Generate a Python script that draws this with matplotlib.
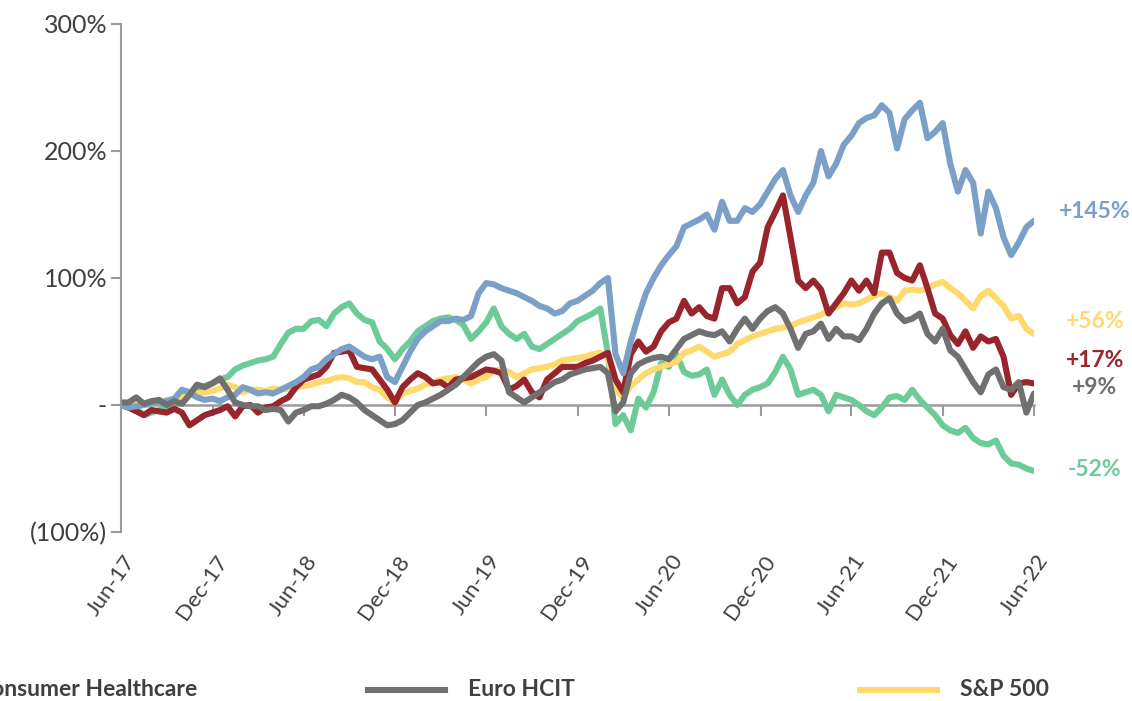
import pandas as pd
import matplotlib
matplotlib.use("Agg")
import matplotlib.pyplot as plt
from matplotlib.lines import Line2D
from matplotlib.transforms import ScaledTranslation

plt.rcParams["font.family"] = ["Lato", "DejaVu Sans"]

# semi-monthly observations, Jun-17 .. Jun-22 (cumulative return, %)
dates = pd.date_range("2017-06-30", "2022-06-30", periods=121)

blue = [0, -2, -1, 0, 1, 2, 3, 5, 12, 10, 6, 4, 5, 3, 6, 8, 14, 12, 9, 10,
        9, 12, 15, 18, 22, 28, 30, 36, 40, 44, 46, 42, 38, 36, 38, 22, 18, 30, 42, 52,
        58, 62, 66, 66, 68, 67, 70, 88, 96, 95, 92, 90, 88, 85, 82, 78, 76, 72, 74, 80,
        82, 86, 90, 96, 100, 40, 25, 50, 70, 88, 100, 110, 118, 125, 140, 143, 146, 150, 138, 160,
        145, 145, 155, 152, 158, 168, 178, 185, 165, 152, 165, 175, 200, 180, 190, 205, 212, 222, 226, 228,
        236, 230, 202, 225, 232, 238, 210, 215, 222, 190, 168, 185, 175, 135, 168, 155, 132, 118, 128, 140,
        145]
red = [0, -2, -5, -8, -4, -5, -6, -3, -6, -16, -12, -8, -6, -4, -1, -9, -1, 0, -6, -2,
       -1, 3, 6, 14, 20, 22, 24, 30, 41, 42, 43, 30, 29, 28, 20, 12, 2, 14, 20, 25,
       22, 17, 18, 14, 20, 21, 22, 25, 28, 27, 25, 12, 15, 20, 10, 6, 20, 25, 30, 30,
       30, 33, 35, 38, 41, 20, 10, 40, 50, 42, 46, 58, 65, 68, 82, 72, 77, 70, 68, 92,
       92, 80, 85, 105, 112, 140, 152, 165, 132, 98, 92, 98, 91, 72, 80, 88, 98, 90, 98, 88,
       120, 120, 104, 100, 98, 110, 92, 72, 68, 55, 48, 58, 45, 54, 50, 52, 38, 8, 17, 18,
       17]
grey = [2, 2, 6, 1, 3, 4, 0, 3, 1, 8, 16, 14, 17, 21, 12, 2, 0, -1, -1, -4,
        -3, -4, -13, -6, -4, -1, -1, 1, 4, 8, 6, 2, -4, -8, -12, -16, -15, -12, -6, 0,
        2, 5, 8, 12, 16, 22, 28, 34, 38, 40, 35, 10, 6, 2, 6, 10, 14, 18, 20, 24,
        26, 28, 29, 30, 25, -5, 2, 25, 32, 35, 37, 38, 36, 44, 52, 55, 58, 56, 55, 58,
        50, 60, 68, 60, 68, 74, 77, 72, 60, 45, 56, 58, 64, 52, 60, 54, 54, 51, 60, 72,
        80, 84, 72, 66, 68, 72, 56, 50, 60, 43, 38, 28, 18, 10, 24, 28, 14, 12, 18, -6,
        9]
yellow = [0, 1, 2, 1, 0, 2, 4, 5, 6, 8, 9, 10, 11, 13, 16, 14, 10, 12, 12, 11,
          13, 12, 13, 14, 15, 16, 18, 19, 21, 22, 21, 18, 18, 14, 12, 6, 2, 9, 11, 13,
          16, 18, 20, 21, 22, 20, 17, 20, 22, 27, 28, 26, 22, 25, 28, 29, 30, 32, 35, 36,
          37, 38, 40, 41, 38, 12, 6, 15, 20, 25, 28, 30, 32, 34, 41, 43, 46, 42, 38, 40,
          42, 48, 51, 54, 56, 58, 60, 61, 62, 65, 67, 69, 71, 75, 77, 80, 79, 80, 83, 86,
          88, 85, 82, 90, 91, 90, 92, 95, 97, 92, 88, 82, 76, 86, 90, 84, 78, 68, 70, 60,
          56]
green = [0, -2, -3, -8, -6, -4, -2, 4, 6, 10, 13, 15, 17, 20, 22, 28, 31, 33, 35, 36,
         38, 48, 57, 60, 60, 66, 67, 62, 72, 77, 80, 72, 67, 65, 50, 44, 36, 44, 50, 58,
         62, 66, 68, 69, 67, 63, 52, 58, 65, 76, 62, 56, 52, 56, 46, 44, 48, 52, 56, 60,
         66, 69, 72, 76, 40, -15, -8, -20, 5, -2, 10, 33, 30, 40, 26, 23, 24, 28, 8, 20,
         8, 0, 8, 12, 14, 17, 26, 38, 28, 8, 10, 12, 8, -5, 8, 6, 4, 0, -5, -8,
         -2, 6, 7, 4, 12, 4, -2, -8, -16, -20, -22, -18, -26, -30, -31, -28, -40, -46, -47, -50,
         -52]

tick_labels = ["Jun-17", "Dec-17", "Jun-18", "Dec-18", "Jun-19", "Dec-19",
               "Jun-20", "Dec-20", "Jun-21", "Dec-21", "Jun-22"]
tick_dates = ["2017-06-30", "2017-12-31", "2018-06-30", "2018-12-31", "2019-06-30",
              "2019-12-31", "2020-06-30", "2020-12-31", "2021-06-30", "2021-12-31",
              "2022-06-30"]
yticks = [-100, 0, 100, 200, 300]
ytick_labels = ["(100%)", "-", "100%", "200%", "300%"]

C_BLUE = "#7BA0C8"
C_RED = "#98242C"
C_GREY = "#707070"
C_YELLOW = "#FFD96E"
C_GREEN = "#6CCB98"
AXIS_GREY = "#9A9A9A"
TEXT = "#404040"


def main():
    fig = plt.figure(figsize=(11.32, 7.01), dpi=100)
    ax = fig.add_axes([0.1069, 0.2411, 0.8065, 0.7247])

    # drawing order: green under, grey on top
    for vals, col in [(green, C_GREEN), (yellow, C_YELLOW), (red, C_RED),
                      (blue, C_BLUE), (grey, C_GREY)]:
        ax.plot(dates, vals, color=col, linewidth=4.4, solid_capstyle="round",
                solid_joinstyle="round")

    # end-of-period labels
    lab = [(blue, C_BLUE, "+145%", 9), (yellow, C_YELLOW, "+56%", 12),
           (red, C_RED, "+17%", 23), (grey, C_GREY, "+9%", 6),
           (green, C_GREEN, "-52%", 2)]
    for vals, col, txt, dy in lab:
        ax.annotate(txt, (dates[-1], vals[-1]), xytext=(61, dy),
                    textcoords="offset pixels", ha="center", va="center",
                    color=col, fontsize=16.5, fontweight="bold",
                    annotation_clip=False)

    ax.set_ylim(-100, 300)
    ax.set_xlim(pd.Timestamp(tick_dates[0]), pd.Timestamp(tick_dates[-1]))
    ax.set_yticks(yticks)
    ax.set_yticklabels(ytick_labels)

    for s in ["top", "right"]:
        ax.spines[s].set_visible(False)
    ax.spines["left"].set_color(AXIS_GREY)
    ax.spines["left"].set_linewidth(1.5)
    ax.spines["bottom"].set_position(("data", 0))
    ax.spines["bottom"].set_color(AXIS_GREY)
    ax.spines["bottom"].set_linewidth(1.8)
    ax.spines["bottom"].set_zorder(0.5)

    ax.tick_params(axis="y", direction="out", length=7, width=1.5,
                   color=AXIS_GREY, labelsize=18, labelcolor=TEXT, pad=3)
    xt = pd.to_datetime(tick_dates)
    ax.set_xticks(xt)
    ax.tick_params(axis="x", direction="out", length=8, width=1.5,
                   color=AXIS_GREY, labelbottom=False)

    # date labels sit under the plot area, not on the zero line
    sec = ax.secondary_xaxis(0.0)
    sec.set_xticks(xt)
    sec.set_xticklabels(tick_labels, rotation=55, ha="right",
                        rotation_mode="anchor", va="center")
    sec.tick_params(length=0, pad=18, labelsize=16, labelcolor=TEXT)
    sec.spines["bottom"].set_visible(False)
    shift = ScaledTranslation(10 / 100, 0, fig.dpi_scale_trans)
    for t in sec.get_xticklabels():
        t.set_transform(t.get_transform() + shift)

    # legend row (first column runs off the left edge as in the source)
    legend_items = [("Consumer Healthcare", C_GREEN, -124),
                    ("Euro HCIT", C_GREY, 368), ("S&P 500", C_YELLOW, 860)]
    y = 1 - 690 / 701
    for name, col, x0 in legend_items:
        fig.add_artist(Line2D([x0 / 1132, (x0 + 77) / 1132], [y, y],
                              color=col, linewidth=4.4,
                              transform=fig.transFigure))
        fig.text((x0 + 100) / 1132, y, name, ha="left", va="center",
                 fontsize=16.5, fontweight="bold", color=TEXT)

    fig.savefig("out.png", dpi=100)


if __name__ == "__main__":
    main()
